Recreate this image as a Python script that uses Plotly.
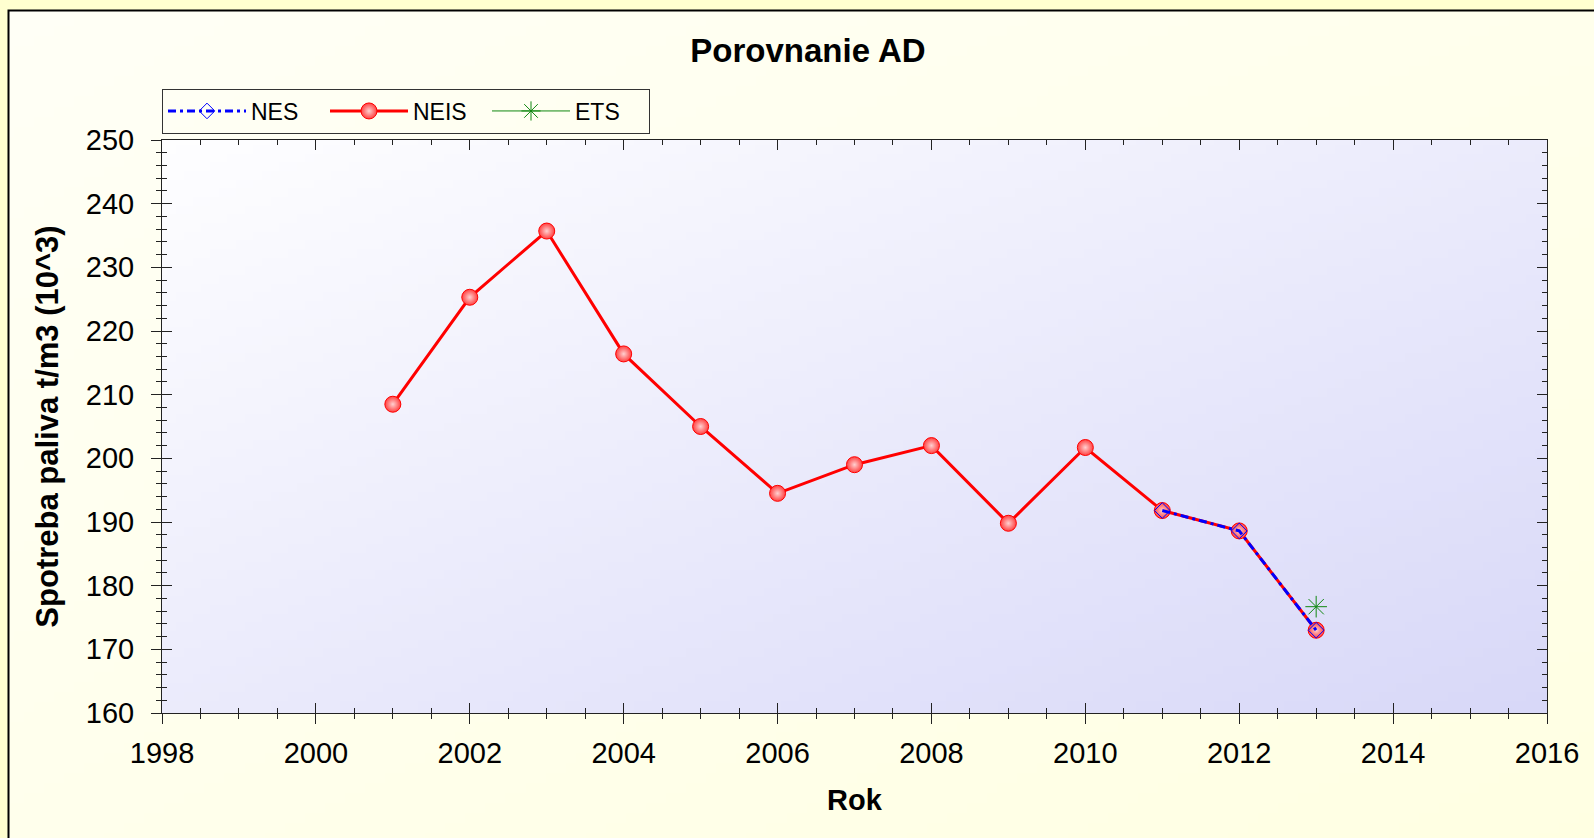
import base64
import struct
import zlib

import numpy as np
import plotly.graph_objects as go

# ---------------- data ----------------
years = [2001, 2002, 2003, 2004, 2005, 2006, 2007, 2008, 2009, 2010, 2011, 2012, 2013]
neis = [208.5, 225.3, 235.7, 216.4, 205.0, 194.5, 199.0, 202.0, 189.8, 201.7, 191.8, 188.6, 173.0]
nes_years = [2011, 2012, 2013]
nes = [191.8, 188.6, 173.0]
ets_years = [2013]
ets = [176.7]

title_text = "Porovnanie AD"
x_title = "Rok"
y_title = "Spotreba paliva t/m3 (10^3)"

# ---------------- layout geometry (px) ----------------
W, H = 1594, 838
L, R, T, B = 162, 1547, 140, 713


def px(xp):
    return (xp - L) / (R - L)


def py(yp):
    return (B - yp) / (B - T)


def png_uri(arr):
    h, w, _ = arr.shape
    raw = b"".join(b"\x00" + arr[i].tobytes() for i in range(h))

    def chunk(tag, data):
        c = struct.pack(">I", len(data)) + tag + data
        return c + struct.pack(">I", zlib.crc32(tag + data) & 0xFFFFFFFF)

    png = (b"\x89PNG\r\n\x1a\n"
           + chunk(b"IHDR", struct.pack(">IIBBBBB", w, h, 8, 2, 0, 0, 0))
           + chunk(b"IDAT", zlib.compress(raw, 9))
           + chunk(b"IEND", b""))
    return "data:image/png;base64," + base64.b64encode(png).decode()


def gradient(w, h, c0, c1):
    xs = np.linspace(0, 1, w)[None, :]
    ys = np.linspace(0, 1, h)[:, None]
    t = (xs + ys) / 2.0
    c0 = np.array(c0, float)
    c1 = np.array(c1, float)
    arr = c0[None, None, :] * (1 - t[..., None]) + c1[None, None, :] * t[..., None]
    return np.clip(np.round(arr), 0, 255).astype(np.uint8)


frame_img = png_uri(gradient(160, 84, (255, 255, 246), (255, 255, 226)))
plot_img = png_uri(gradient(160, 66, (254, 254, 255), (216, 216, 248)))

FONT = "Arial, Liberation Sans, sans-serif"

fig = go.Figure()

# NEIS (drawn first, under NES)
fig.add_trace(go.Scatter(
    x=years, y=neis, name="NEIS", mode="lines+markers", legendrank=2,
    line=dict(color="#ff0000", width=3),
    marker=dict(symbol="circle", size=16, color="#ff4040",
                gradient=dict(type="radial", color="#ffd0d0"),
                line=dict(color="#ff0000", width=1)),
))
# NES
fig.add_trace(go.Scatter(
    x=nes_years, y=nes, name="NES", mode="lines+markers", legendrank=1,
    line=dict(color="#0000ff", width=3, dash="8px,4px,3px,4px"),
    marker=dict(symbol="diamond-open", size=12, color="#0000ff",
                line=dict(color="#0000ff", width=1)),
))
# ETS
fig.add_trace(go.Scatter(
    x=ets_years, y=ets, name="ETS", mode="lines+markers", legendrank=3,
    line=dict(color="#118811", width=1),
    marker=dict(symbol="asterisk-open", size=18, color="#118811",
                line=dict(color="#118811", width=1)),
))
# empty trace to activate overlay axes (for crossing ticks)
fig.add_trace(go.Scatter(x=[], y=[], xaxis="x2", yaxis="y2",
                         showlegend=False, hoverinfo="skip"))

axis_color = "#222222"
tickfont = dict(family=FONT, size=29, color="#000000")

fig.update_layout(
    width=W, height=H,
    margin=dict(l=L, r=W - R, t=T, b=H - B, pad=0),
    paper_bgcolor="#FFFFD0",
    plot_bgcolor="rgba(0,0,0,0)",
    title=dict(text=title_text, x=808 / W, xref="container", xanchor="center",
               y=1 - 50 / H, yref="container", yanchor="middle",
               font=dict(family=FONT, size=33, color="#000000", weight="bold")),
    xaxis=dict(
        range=[1998, 2016], tick0=1998, dtick=2, showgrid=False, zeroline=False,
        showline=True, linecolor=axis_color, linewidth=1, mirror=False,
        ticks="outside", ticklen=10, tickwidth=1, tickcolor=axis_color,
        minor=dict(dtick=0.5, ticks="outside", ticklen=5, tickcolor=axis_color, showgrid=False),
        tickfont=tickfont, ticklabelstandoff=4,
        title=dict(text=x_title, font=dict(family=FONT, size=29, color="#000000", weight="bold"),
                   standoff=21),
        fixedrange=True,
    ),
    yaxis=dict(
        range=[160, 250], tick0=160, dtick=10, showgrid=False, zeroline=False,
        showline=True, linecolor=axis_color, linewidth=1, mirror=False,
        ticks="outside", ticklen=10, tickwidth=1, tickcolor=axis_color,
        minor=dict(dtick=2, ticks="outside", ticklen=5, tickcolor=axis_color, showgrid=False),
        tickfont=tickfont, ticklabelstandoff=11,
        title=dict(text=y_title, font=dict(family=FONT, size=31, color="#000000", weight="bold"),
                   standoff=17),
        fixedrange=True,
    ),
    xaxis2=dict(
        overlaying="x", anchor="y2", side="bottom", range=[1998, 2016], tick0=1998, dtick=2,
        showgrid=False, zeroline=False, showline=True, linecolor=axis_color, linewidth=1,
        mirror="ticks", ticks="inside", ticklen=10, tickcolor=axis_color,
        minor=dict(dtick=0.5, ticks="inside", ticklen=5, tickcolor=axis_color, showgrid=False),
        showticklabels=False, fixedrange=True,
    ),
    yaxis2=dict(
        overlaying="y", anchor="x2", side="left", range=[160, 250], tick0=160, dtick=10,
        showgrid=False, zeroline=False, showline=True, linecolor=axis_color, linewidth=1,
        mirror="ticks", ticks="inside", ticklen=10, tickcolor=axis_color,
        minor=dict(dtick=2, ticks="inside", ticklen=5, tickcolor=axis_color, showgrid=False),
        showticklabels=False, fixedrange=True,
    ),
    legend=dict(
        orientation="h", x=px(162), xanchor="left", y=py(111), yanchor="middle",
        bgcolor="rgba(0,0,0,0)", bordercolor="#333333", borderwidth=1,
        font=dict(family=FONT, size=23, color="#000000"),
        entrywidth=69, entrywidthmode="pixels", itemwidth=78,
        traceorder="normal",
    ),
    showlegend=True,
    images=[
        dict(source=frame_img, xref="paper", yref="paper",
             x=px(8), y=py(10), sizex=px(W + 20) - px(8), sizey=py(10) - py(H + 20),
             xanchor="left", yanchor="top", sizing="stretch", layer="below"),
        dict(source=plot_img, xref="paper", yref="paper",
             x=0, y=1, sizex=1, sizey=1,
             xanchor="left", yanchor="top", sizing="stretch", layer="below"),
    ],
    shapes=[
        dict(type="rect", xref="paper", yref="paper",
             x0=px(8.5), y0=py(10.5), x1=px(W + 20), y1=py(H + 20),
             line=dict(color="#000000", width=2), fillcolor="rgba(0,0,0,0)", layer="below"),
    ],
)

fig.write_html(
    "out.html",
    config={"displayModeBar": False},
    post_script="document.body.style.margin='0';document.body.style.overflow='hidden';",
)
